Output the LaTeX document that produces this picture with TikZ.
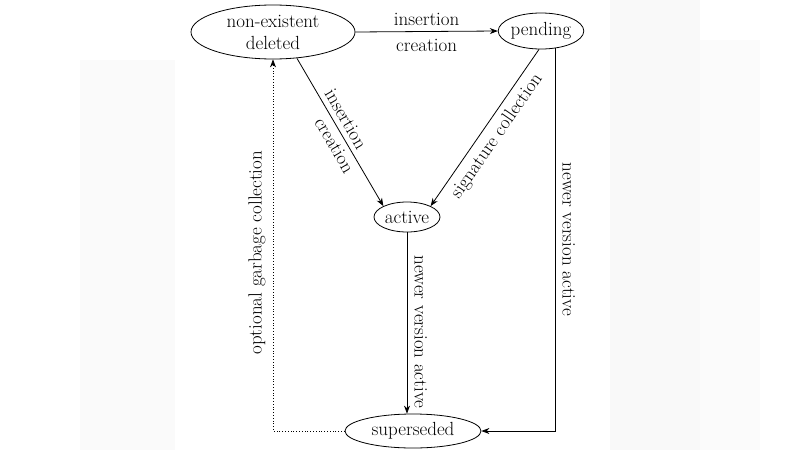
\documentclass[tikz,border=0pt]{standalone}
\usetikzlibrary{shapes.geometric,arrows.meta,calc}
\begin{document}
\begin{tikzpicture}[x=1pt,y=-1pt,
  st/.style={draw,ellipse,thick,inner sep=0pt,align=center,font=\fontsize{19}{22}\selectfont},
  lb/.style={font=\fontsize{19}{22}\selectfont,inner sep=2pt},
  ar/.style={-{Stealth[length=8pt,width=6pt]},thick}]
\useasboundingbox (0,0) rectangle (800,450);
\fill[gray!4] (80,60) rectangle (175,450);
\fill[gray!5] (610,0) rectangle (800,450);
\fill[white] (700,0) rectangle (800,450);
\fill[gray!3] (700,40) rectangle (760,450);
\node[st,minimum width=164pt,minimum height=54pt] (ne) at (273,32) {non-existent\\deleted};
\node[st,minimum width=72pt,minimum height=36pt] (pe) at (541,31) {pending};
\node[st,minimum width=66pt,minimum height=30pt] (ac) at (407,217) {active};
\node[st,minimum width=136pt,minimum height=34pt] (su) at (413,431) {superseded};
\coordinate (c1) at (555,431);
\coordinate (c2) at (273,431);
\coordinate (s1) at ($(ne.south)+(24,-1)$);
\coordinate (s2) at ($(pe.south)+(-2,0)$);
\coordinate (s3) at ($(pe.south)+(14,-1.5)$);
\draw[ar] (ne.east) -- node[lb,above=3pt]{insertion} node[lb,below=5pt]{creation} (pe.west);
\draw[ar] (s1) -- node[lb,sloped,above=3pt,pos=0.45]{insertion} node[lb,sloped,below=3pt,pos=0.55]{creation} (ac.north west);
\draw[ar] (s2) -- node[lb,sloped,below=4pt,pos=0.5]{signature collection} (ac.north east);
\draw[ar] (ac.south) -- node[lb,sloped,above=5pt,pos=0.55]{newer version active} (ac.south |- su.north);
\draw[ar] (s3) -- node[lb,sloped,above=5pt,pos=0.5]{newer version active} (c1) -- (su.east);
\draw[ar,dotted] (su.west) -- (c2) -- node[lb,sloped,above=5pt,pos=0.48]{optional garbage collection} (ne.south);
\end{tikzpicture}
\end{document}
